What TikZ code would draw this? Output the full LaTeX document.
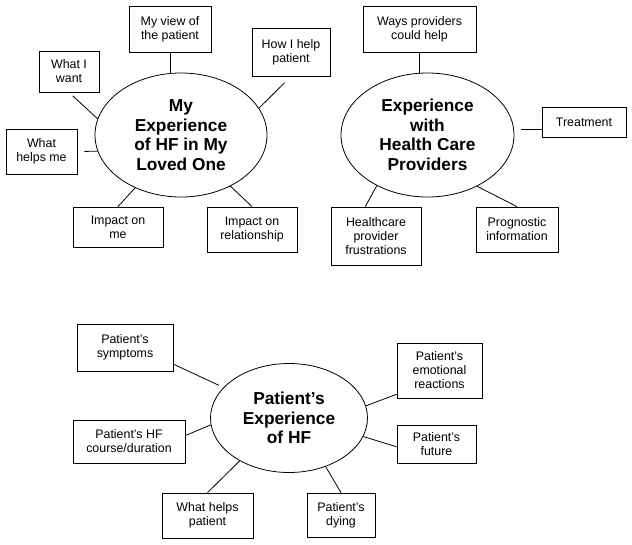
\documentclass[tikz,border=0pt]{standalone}
\usepackage{fontspec}
\setmainfont{Liberation Sans}
\usetikzlibrary{positioning, shapes.geometric, calc}

\begin{document}
\begin{tikzpicture}[
    x=1pt, y=-1pt,
    box/.style={draw, line width=0.8pt, align=center, inner sep=0pt,
                font=\fontsize{12.4}{14}\selectfont},
    topic/.style={draw, ellipse, line width=0.8pt, align=center, inner sep=0pt,
                  font=\fontsize{17.3}{19.5}\selectfont\bfseries},
    link/.style={line width=0.8pt}
  ]
  \useasboundingbox (0,0) rectangle (632,544);

  % my experience of HF in my loved one
  \node[topic, minimum width=172pt, minimum height=124pt] (e1) at (181,135)
    {My\\Experience\\of HF in My\\Loved One};
  \node[box, minimum width=82pt, minimum height=46pt] (view) at (170,29)
    {My view of\\the patient};
  \node[box, minimum width=60pt, minimum height=41pt] (want) at (69,71.5)
    {What I\\want};
  \node[box, minimum width=78pt, minimum height=48pt] (howhelp) at (291,52)
    {How I help\\patient};
  \node[box, minimum width=71pt, minimum height=45pt] (helpsme) at (41.5,151.5)
    {What\\helps me};
  \node[box, minimum width=90pt, minimum height=40pt] (impme) at (118,227)
    {Impact on\\me};
  \node[box, minimum width=90pt, minimum height=45pt] (imprel) at (252,229.5)
    {Impact on\\relationship};

  \draw[link] (view.south) -- (view.south |- e1.north);
  \draw[link, shorten <=5pt] (want.south) -- (e1.169);
  \draw[link, shorten <=9pt] (howhelp.south) -- (e1.19);
  \draw[link, shorten <=7pt] (helpsme.east) -- (e1.191);
  \draw[link] (impme.north) -- (e1.229);
  \draw[link] (imprel.north) -- (e1.314);

  % experience with health care providers
  \node[topic, minimum width=173pt, minimum height=124pt] (e2) at (427.5,135)
    {Experience\\with\\Health Care\\Providers};
  \node[box, minimum width=113pt, minimum height=46pt] (ways) at (419.5,29)
    {Ways providers\\could help};
  \node[box, minimum width=84pt, minimum height=30pt] (treat) at (584,122)
    {Treatment};
  \node[box, minimum width=90pt, minimum height=58pt] (frust) at (376,236)
    {Healthcare\\provider\\frustrations};
  \node[box, minimum width=82pt, minimum height=45pt] (prog) at (517,229.5)
    {Prognostic\\information};

  \draw[link] (ways.south) -- (ways.south |- e2.north);
  \draw[link, shorten <=7pt] (e2.4) -- (e2.4 -| treat.west);
  \draw[link] (frust.110) -- (e2.225);
  \draw[link] (prog.north) -- (e2.314);

  % patient's experience of HF
  \node[topic, minimum width=157pt, minimum height=109pt] (e3) at (289,418)
    {Patient’s\\Experience\\of HF};
  \node[box, minimum width=96pt, minimum height=47pt] (sympt) at (125,347.5)
    {Patient’s\\symptoms};
  \node[box, minimum width=112pt, minimum height=43pt] (course) at (129,441.5)
    {Patient’s HF\\course/duration};
  \node[box, minimum width=91pt, minimum height=45pt] (whp) at (207.5,515.5)
    {What helps\\patient};
  \node[box, minimum width=68pt, minimum height=44pt] (dying) at (341,515)
    {Patient’s\\dying};
  \node[box, minimum width=85pt, minimum height=55pt] (emot) at (439.5,370.5)
    {Patient’s\\emotional\\reactions};
  \node[box, minimum width=79pt, minimum height=38pt] (fut) at (436.5,444)
    {Patient’s\\future};

  \draw[link, shorten >=5pt] (sympt.341) -- (e3.155);
  \draw[link] (course.6) -- (e3.185);
  \draw[link] (whp.north) -- (e3.221);
  \draw[link] (dying.north) -- (e3.307);
  \draw[link] (emot.209) -- (e3.9);
  \draw[link] (fut.184) -- (e3.346);
\end{tikzpicture}
\end{document}
